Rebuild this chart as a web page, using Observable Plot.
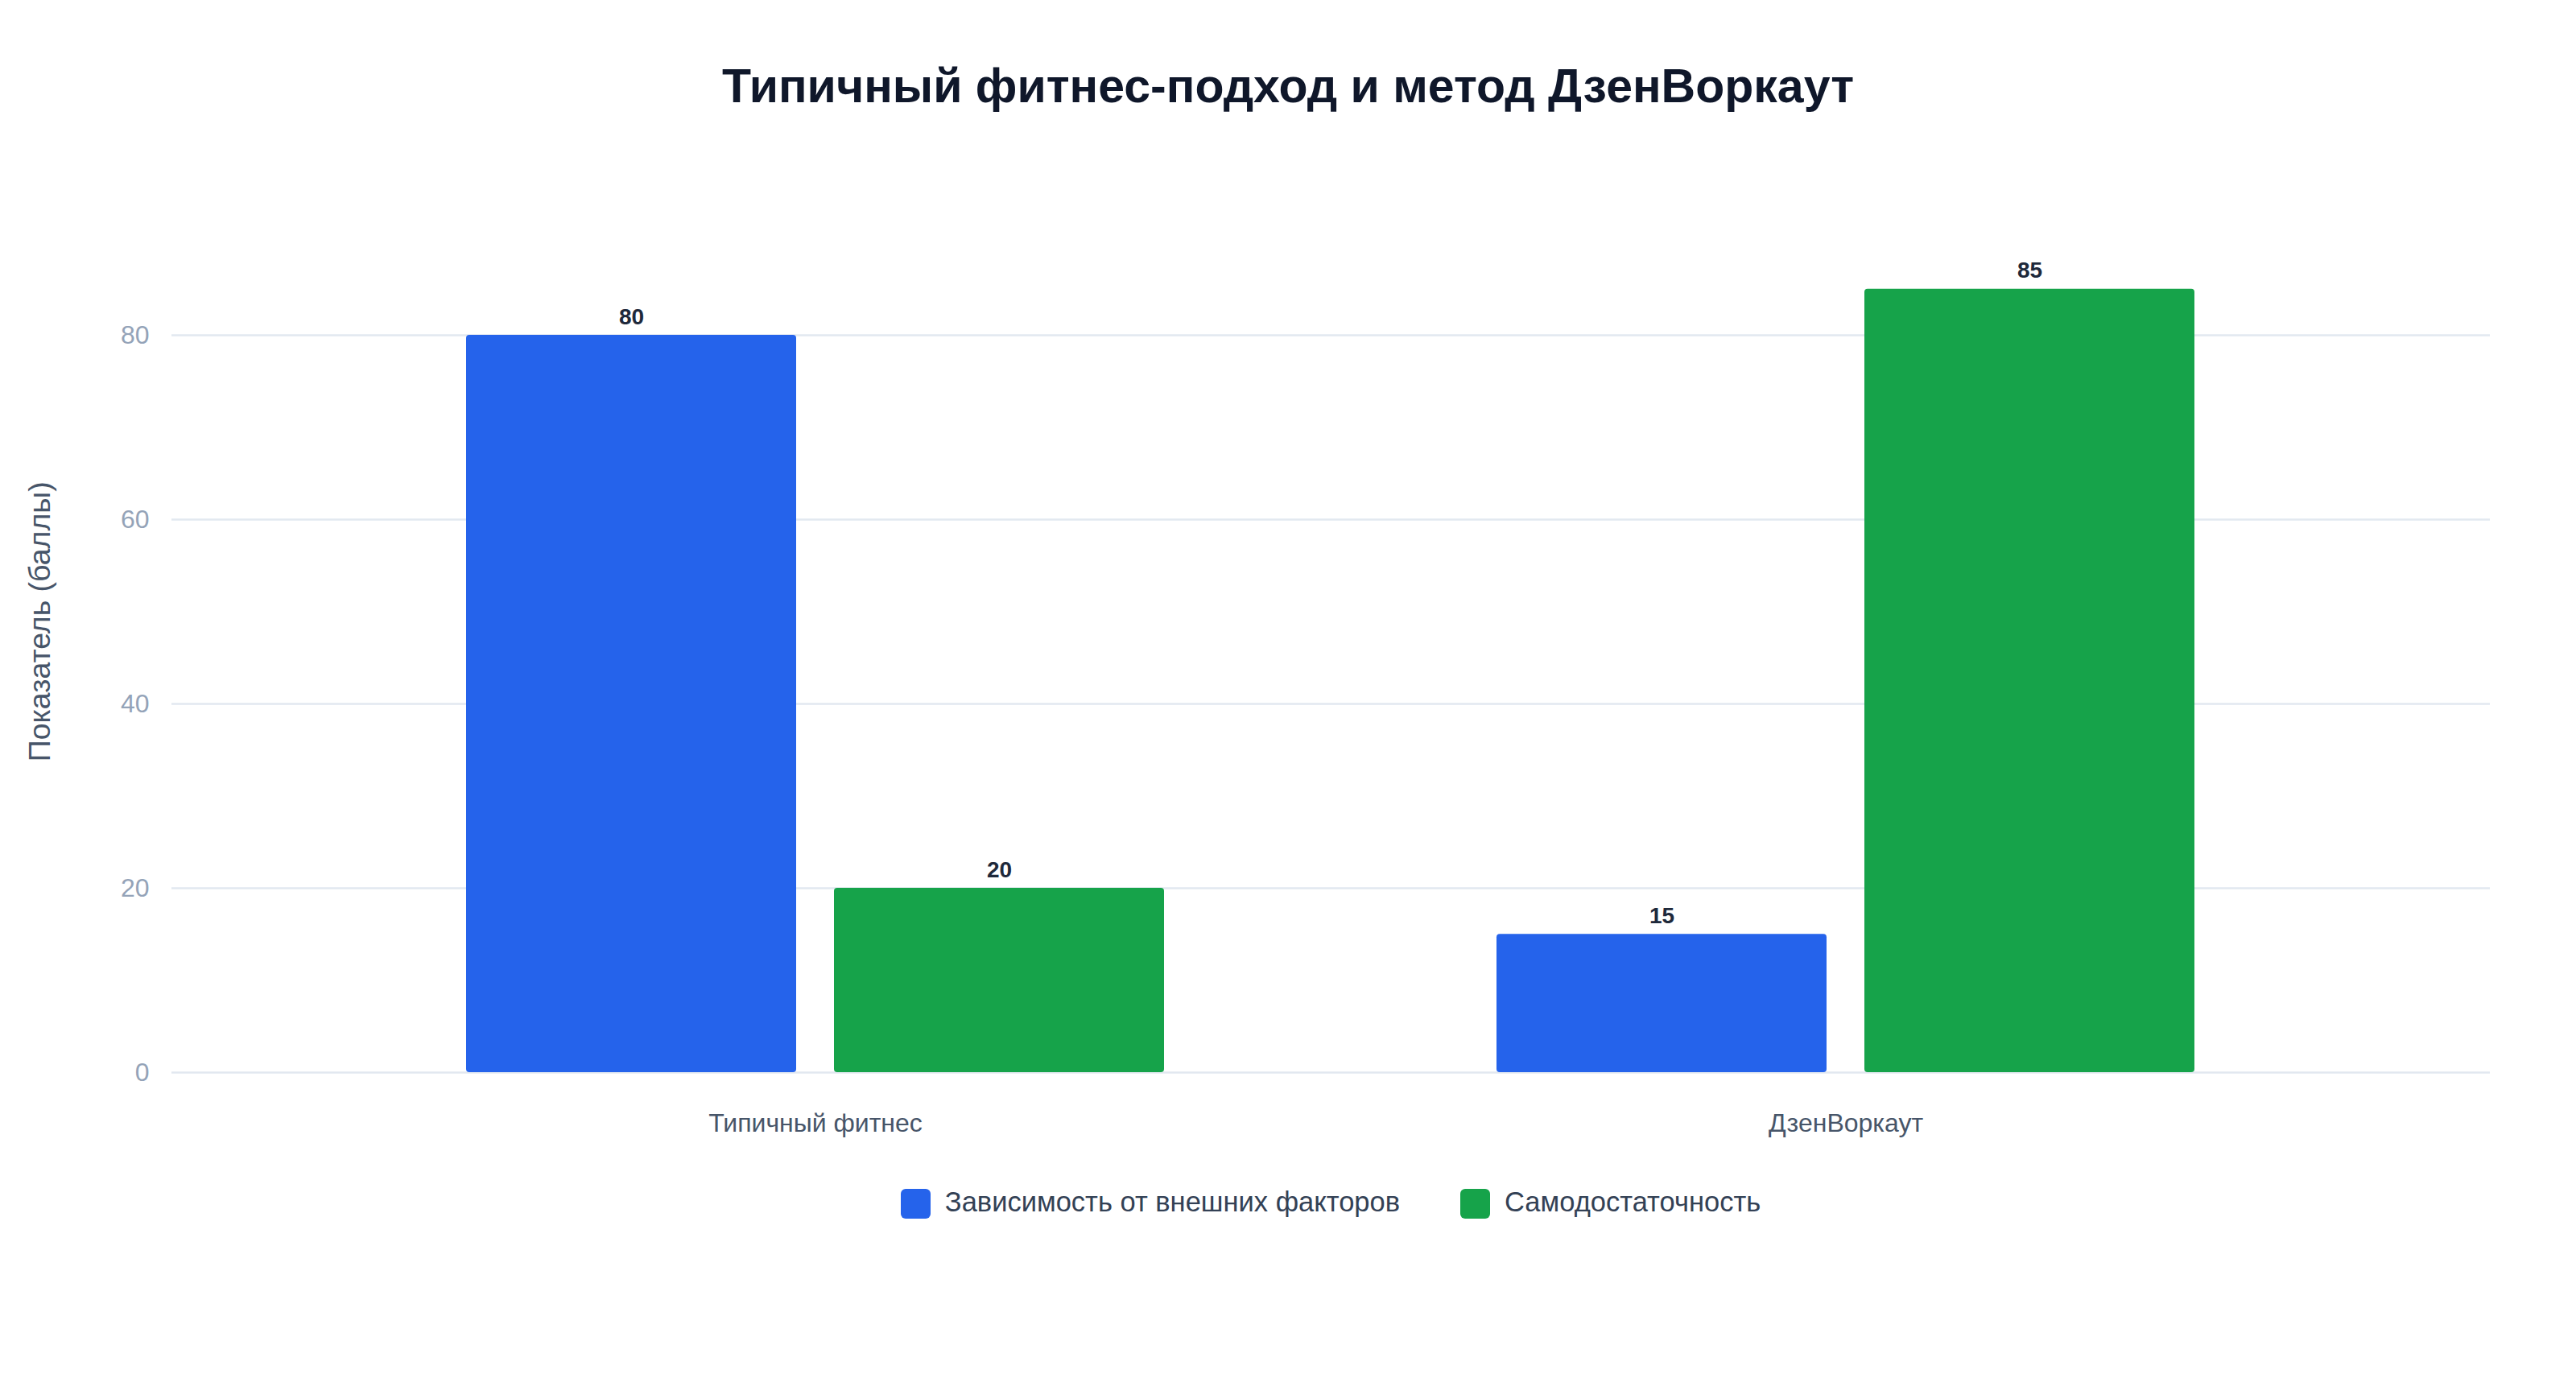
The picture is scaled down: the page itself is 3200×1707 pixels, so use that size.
<!DOCTYPE html>
<html lang="ru">
<head>
<meta charset="utf-8">
<script src="https://cdn.jsdelivr.net/npm/d3@7"></script>
<script src="https://cdn.jsdelivr.net/npm/@observablehq/plot@0.6"></script>
<style>
  html, body { margin: 0; padding: 0; background: #ffffff; }
  body { width: 3200px; height: 1707px; overflow: hidden; font-family: "Liberation Sans", Arial, Helvetica, sans-serif; }
  #title { height: 180px; box-sizing: border-box; padding-top: 78px; font-size: 59px; line-height: 59px; font-weight: bold; color: #0f172a; text-align: center; white-space: nowrap; }
  #chart { position: relative; width: 3200px; height: 1260px; }
  #chart svg { display: block; position: absolute; left: 0; top: 0; }
  #legend { box-sizing: border-box; margin-left: 213px; width: 2880px; padding-top: 37px; display: flex; justify-content: center; gap: 75px; }
  .item { display: flex; align-items: center; height: 37px; }
  .sw { width: 37px; height: 37px; border-radius: 6px; margin-right: 18px; }
  .lbl { font-size: 34.5px; line-height: 36px; color: #334155; position: relative; top: -3px; white-space: nowrap; }
</style>
</head>
<body>
<div id="title"></div>
<div id="chart"></div>
<div id="legend"></div>
<script>
const titleText = "Типичный фитнес-подход и метод ДзенВоркаут";
const yLabel = "Показатель (баллы)";
const groups = ["Типичный фитнес", "ДзенВоркаут"];
const series = ["Зависимость от внешних факторов", "Самодостаточность"];
const dependence = [80, 15];
const selfSufficiency = [20, 85];
const colors = ["#2563eb", "#16a34a"];
const yTicks = [0, 20, 40, 60, 80];

const data = [];
groups.forEach((g, i) => {
  data.push({group: g, series: series[0], value: dependence[i]});
  data.push({group: g, series: series[1], value: selfSufficiency[i]});
});

document.getElementById("title").textContent = titleText;

const common = {
  width: 3200,
  height: 1260,
  marginLeft: 213,
  marginRight: 107,
  marginTop: 121.5,
  marginBottom: 108,
  style: {fontFamily: "'Liberation Sans', Arial, Helvetica, sans-serif", fontSize: "32px", background: "transparent"}
};

// Background layer: grid, y tick labels, y-axis title (full plot width)
const back = Plot.plot({
  ...common,
  y: {domain: [0, 90], axis: null},
  marks: [
    Plot.ruleY(yTicks, {y: d => d, stroke: "#e2e8f0", strokeWidth: 2.5}),
    Plot.text(yTicks, {y: d => d, text: d => String(d), frameAnchor: "left", dx: -28, textAnchor: "end", lineAnchor: "middle", fill: "#94a3b8", fontSize: 32}),
    Plot.text([yLabel], {text: d => d, frameAnchor: "left", dx: -164, dy: -45, rotate: -90, textAnchor: "middle", lineAnchor: "middle", fill: "#475569", fontSize: 37.5})
  ]
});

// Foreground layer: grouped bars via fx facets
const front = Plot.plot({
  ...common,
  fx: {domain: groups, paddingInner: 0.3223, paddingOuter: 0.2861, axis: null},
  x: {domain: series, paddingInner: 0.103, paddingOuter: 0, axis: null},
  y: {domain: [0, 90], axis: null},
  color: {domain: series, range: colors},
  marks: [
    Plot.barY(data, {fx: "group", x: "series", y: "value", fill: "series", rx: 4}),
    Plot.text(data, {fx: "group", x: "series", y: "value", text: d => String(d.value), lineAnchor: "bottom", dy: -14, fontWeight: "bold", fontSize: 28, fill: "#1e293b"}),
    Plot.axisFx({anchor: "bottom", tickSize: 0, tickPadding: 51, fontSize: 32, fill: "#475569", label: null})
  ]
});

const chartEl = document.getElementById("chart");
chartEl.appendChild(back);
chartEl.appendChild(front);

const legend = document.getElementById("legend");
series.forEach((s, i) => {
  const item = document.createElement("div");
  item.className = "item";
  const sw = document.createElement("div");
  sw.className = "sw";
  sw.style.background = colors[i];
  const lbl = document.createElement("span");
  lbl.className = "lbl";
  lbl.textContent = s;
  item.appendChild(sw);
  item.appendChild(lbl);
  legend.appendChild(item);
});
</script>
</body>
</html>
